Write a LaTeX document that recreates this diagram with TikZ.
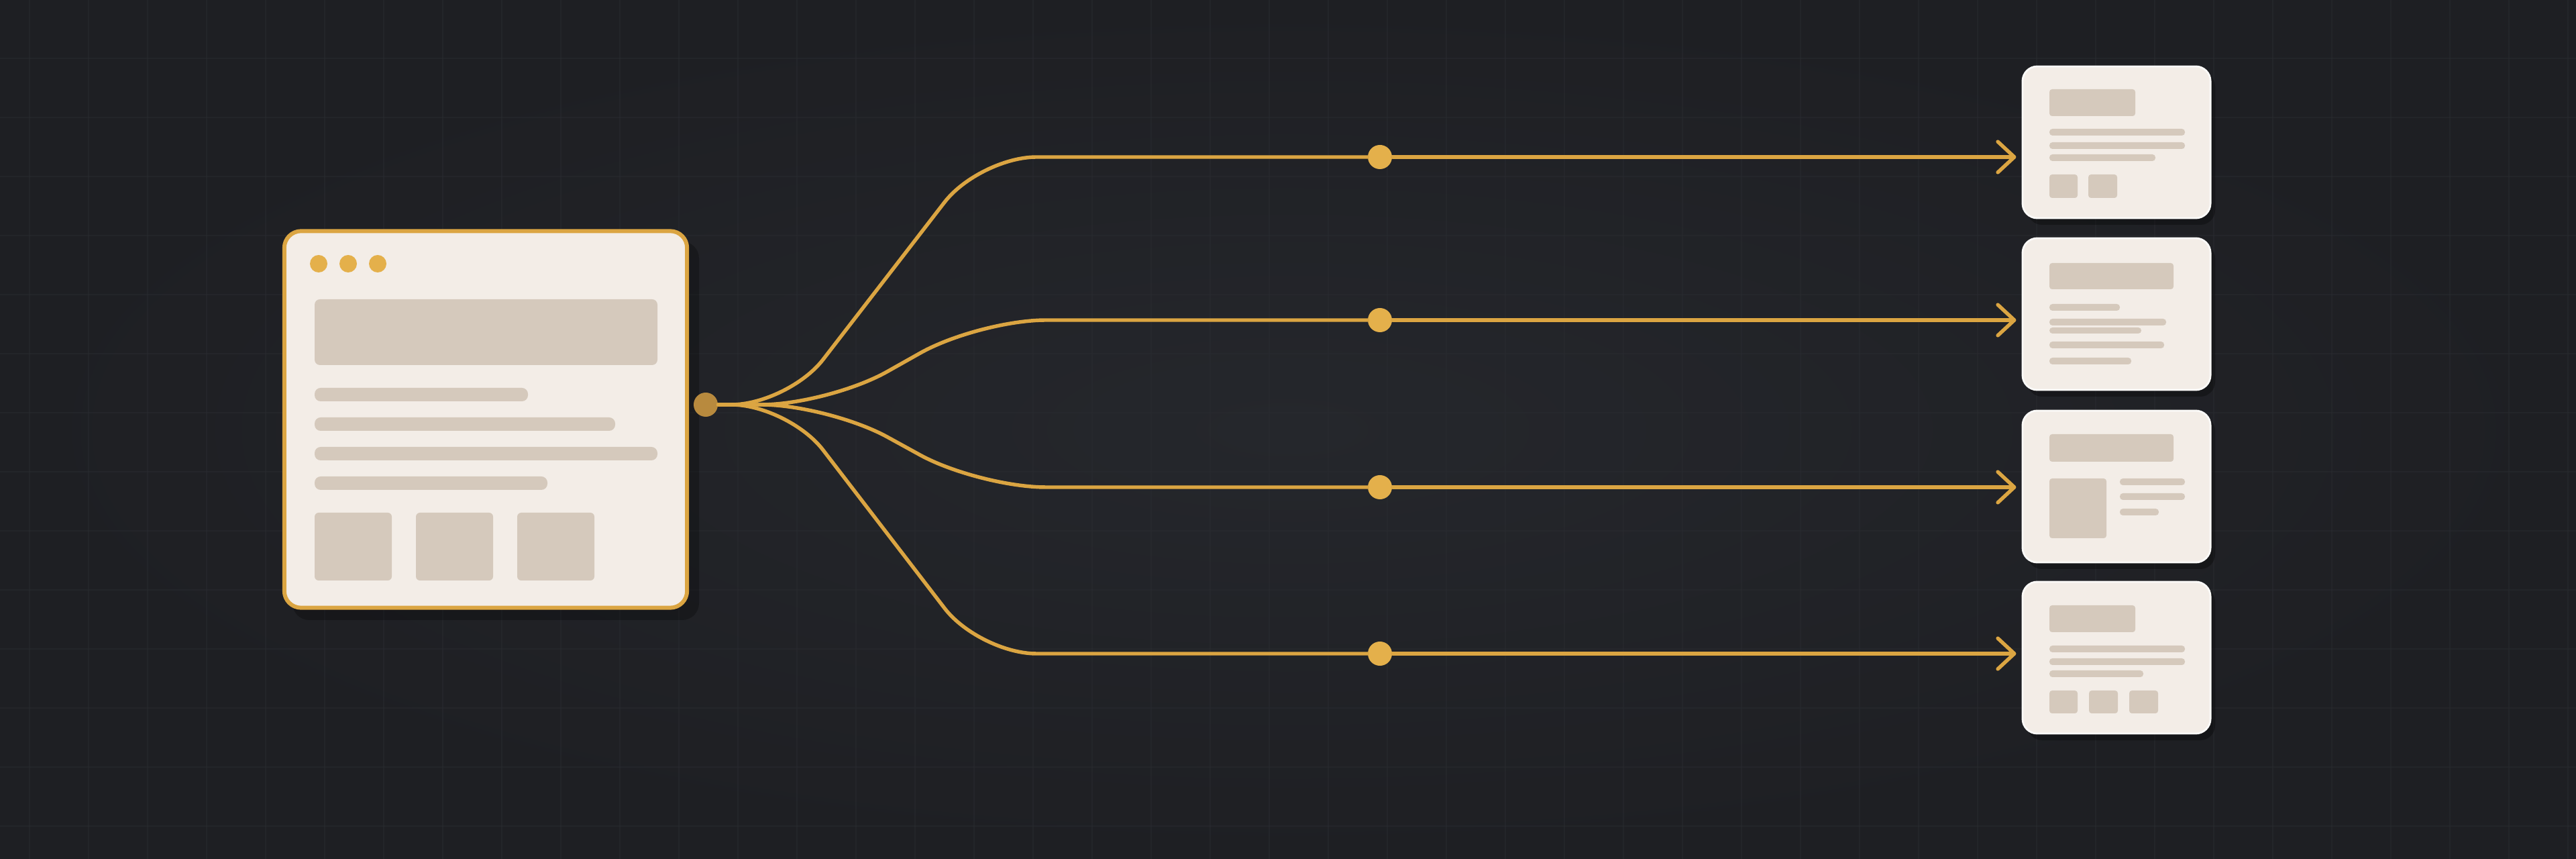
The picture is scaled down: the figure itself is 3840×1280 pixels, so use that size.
\documentclass[tikz,border=0pt]{standalone}
\usepackage{tikz}
\usetikzlibrary{arrows.meta}

\definecolor{bgc}{HTML}{25272C}
\definecolor{bgedge}{HTML}{1E1F23}
\definecolor{gridc}{HTML}{292B30}
\definecolor{linegold}{HTML}{DBA542}
\definecolor{dotgold}{HTML}{E4B04B}
\definecolor{hubgold}{HTML}{B88A3E}
\definecolor{paper}{HTML}{F3EDE7}
\definecolor{phc}{HTML}{D5C9BC}

\begin{document}
\begin{tikzpicture}[x=0.01cm, y=-0.01cm,
    link/.style={draw=linegold, line width=1.55pt, line cap=round, line join=round},
    arrowed/.style={-{Straight Barb[length=7pt,width=13pt,round]}, shorten >=2.3pt},
    gridline/.style={draw=gridc, line width=0.35pt},
    pagebox/.style={draw=linegold, line width=1.7pt, fill=paper, rounded corners=0.25cm,
        minimum width=6cm, minimum height=5.61cm, inner sep=0pt},
    card/.style={draw=white!70!paper, line width=0.8pt, fill=paper, rounded corners=0.22cm,
        minimum width=2.8cm, minimum height=2.26cm, inner sep=0pt},
    dot/.style={circle, fill=dotgold, minimum size=0.36cm, inner sep=0pt},
    ph/.style={fill=phc}]

    % background
    \useasboundingbox (0,0) rectangle (3840,1280);
    \shade[inner color=bgc, outer color=bgedge] (0,0) rectangle (3840,1280);
    \foreach \gx in {44,132,...,3840} \draw[gridline, opacity=0.5] (\gx,0) -- (\gx,1280);
    \foreach \gy in {87,175,...,1280} \draw[gridline, opacity=0.5] (0,\gy) -- (3840,\gy);

    % source page
    \fill[black, opacity=0.25, rounded corners=0.25cm] (436,360) rectangle (1042,924);
    \node[pagebox] (page) at (724,625) {};
    % window dots
    \fill[dotgold] (475,393) circle [radius=13];
    \fill[dotgold] (519,393) circle [radius=13];
    \fill[dotgold] (563,393) circle [radius=13];
    % header
    \fill[ph, rounded corners=0.08cm] (469,446) rectangle (980,544);
    % lines
    \fill[ph, rounded corners=0.09cm] (469,578) rectangle (787,598);
    \fill[ph, rounded corners=0.09cm] (469,622) rectangle (917,642);
    \fill[ph, rounded corners=0.09cm] (469,666) rectangle (980,686);
    \fill[ph, rounded corners=0.09cm] (469,710) rectangle (816,730);
    % tiles
    \fill[ph, rounded corners=0.06cm] (469,764) rectangle (584,865);
    \fill[ph, rounded corners=0.06cm] (620,764) rectangle (735,865);
    \fill[ph, rounded corners=0.06cm] (771,764) rectangle (886,865);

    % hub
    \node[dot, fill=hubgold] (hub) at (1052,603) {};

    % target cards
    \foreach \cy in {212,468,725,980}
        \fill[black, opacity=0.3, rounded corners=0.22cm] (3022,\cy-105) rectangle (3302,\cy+123);
    \node[card] (c1) at (3155,212) {};
    \node[card] (c2) at (3155,468) {};
    \node[card] (c3) at (3155,725) {};
    \node[card] (c4) at (3155,980) {};

    % card 1
    \fill[ph, rounded corners=0.04cm] (3055,133) rectangle (3183,173);
    \fill[ph, rounded corners=0.045cm] (3055,192) rectangle (3257,202);
    \fill[ph, rounded corners=0.045cm] (3055,212) rectangle (3257,222);
    \fill[ph, rounded corners=0.045cm] (3055,230) rectangle (3213,240);
    \fill[ph, rounded corners=0.04cm] (3055,260) rectangle (3097,295);
    \fill[ph, rounded corners=0.04cm] (3113,260) rectangle (3156,295);
    % card 2
    \fill[ph, rounded corners=0.04cm] (3055,392) rectangle (3240,431);
    \fill[ph, rounded corners=0.045cm] (3055,453) rectangle (3160,463);
    \fill[ph, rounded corners=0.045cm] (3055,475) rectangle (3229,485);
    \fill[ph, rounded corners=0.045cm] (3055,488) rectangle (3192,497);
    \fill[ph, rounded corners=0.045cm] (3055,509) rectangle (3226,519);
    \fill[ph, rounded corners=0.045cm] (3055,533) rectangle (3177,543);
    % card 3
    \fill[ph, rounded corners=0.04cm] (3055,647) rectangle (3240,688);
    \fill[ph, rounded corners=0.04cm] (3055,713) rectangle (3140,802);
    \fill[ph, rounded corners=0.045cm] (3160,713) rectangle (3257,723);
    \fill[ph, rounded corners=0.045cm] (3160,735) rectangle (3257,745);
    \fill[ph, rounded corners=0.045cm] (3160,758) rectangle (3218,768);
    % card 4
    \fill[ph, rounded corners=0.04cm] (3055,902) rectangle (3183,942);
    \fill[ph, rounded corners=0.045cm] (3055,962) rectangle (3257,972);
    \fill[ph, rounded corners=0.045cm] (3055,981) rectangle (3257,991);
    \fill[ph, rounded corners=0.045cm] (3055,999) rectangle (3195,1009);
    \fill[ph, rounded corners=0.04cm] (3055,1029) rectangle (3097,1063);
    \fill[ph, rounded corners=0.04cm] (3114,1029) rectangle (3157,1063);
    \fill[ph, rounded corners=0.04cm] (3174,1029) rectangle (3217,1063);

    % midpoints
    \node[dot] (m1) at (2057,234) {};
    \node[dot] (m2) at (2057,477) {};
    \node[dot] (m3) at (2057,726) {};
    \node[dot] (m4) at (2057,974) {};

    % branches
    \draw[link, rounded corners=0.85cm] (hub) -- (1175,603) -- (1460,234) -- (m1);
    \draw[link, rounded corners=1.0cm] (hub) -- (1235,603) -- (1459,477) -- (m2);
    \draw[link, rounded corners=1.0cm] (hub) -- (1235,603) -- (1459,726) -- (m3);
    \draw[link, rounded corners=0.85cm] (hub) -- (1175,603) -- (1460,974) -- (m4);
    % arrows
    \draw[link, arrowed] (m1) -- (c1.west |- m1);
    \draw[link, arrowed] (m2) -- (c2.west |- m2);
    \draw[link, arrowed] (m3) -- (c3.west |- m3);
    \draw[link, arrowed] (m4) -- (c4.west |- m4);
\end{tikzpicture}
\end{document}
